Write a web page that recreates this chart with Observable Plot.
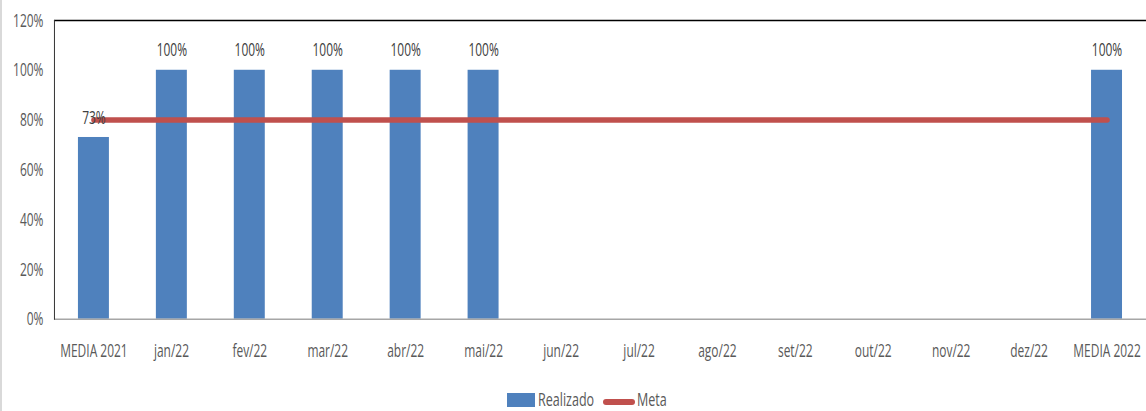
<!DOCTYPE html>
<html>
<head>
<meta charset="utf-8">
<script src="https://cdn.jsdelivr.net/npm/d3@7"></script>
<script src="https://cdn.jsdelivr.net/npm/@observablehq/plot@0.6"></script>
<style>
  html, body { margin: 0; padding: 0; background: #fff; overflow: hidden; width: 1146px; height: 411px; }
  #wrap { position: relative; width: 1146px; height: 411px; box-sizing: border-box; border-left: 2px solid #d9d9d9; }
  #chart { position: absolute; left: 0; top: 0; }
  .lg { position: absolute; font-family: "Open Sans", sans-serif; font-size: 19px; color: #595959; line-height: 1; transform-origin: 0 50%; transform: scaleX(0.66); white-space: nowrap; }
  .sw-bar { position: absolute; left: 505px; top: 393px; width: 28px; height: 14px; background: #4F81BD; }
  .sw-line { position: absolute; left: 601px; top: 399px; width: 32px; height: 6px; background: #C0504D; border-radius: 3px; }
</style>
</head>
<body>
<div id="wrap">
  <div id="chart"></div>
  <span class="sw-bar"></span><span class="lg" style="left:536px; top:390px;">Realizado</span>
  <span class="sw-line"></span><span class="lg" style="left:635px; top:390px;">Meta</span>
</div>
<script>
const categories = ["MEDIA 2021","jan/22","fev/22","mar/22","abr/22","mai/22","jun/22","jul/22","ago/22","set/22","out/22","nov/22","dez/22","MEDIA 2022"];
const realizado = [0.73, 1, 1, 1, 1, 1, null, null, null, null, null, null, null, 1];
const meta = [0.8, 0.8, 0.8, 0.8, 0.8, 0.8, 0.8, 0.8, 0.8, 0.8, 0.8, 0.8, 0.8, 0.8];
const yTicks = [0, 0.2, 0.4, 0.6, 0.8, 1.0, 1.2];

const rows = categories.map((c, i) => ({cat: c, real: realizado[i], meta: meta[i]}));
const bars = rows.filter(d => d.real != null);
const fmt = v => Math.round(v * 100) + "%";

const chart = Plot.plot({
  width: 1145,
  height: 385,
  marginLeft: 52,
  marginRight: 0,
  marginTop: 20,
  marginBottom: 66,
  style: {fontFamily: "'Open Sans', sans-serif", fontSize: "19px", color: "#595959", background: "transparent", overflow: "visible"},
  x: {domain: categories, paddingInner: 0.6, paddingOuter: 0.3, label: null, tickSize: 0, tickPadding: 24},
  y: {domain: [0, 1.2], ticks: yTicks, tickFormat: fmt, label: null, tickSize: 0, tickPadding: 11},
  marks: [
    Plot.barY(bars, {x: "cat", y: "real", fill: "#4F81BD"}),
    Plot.ruleY([1.2], {stroke: "#000", strokeWidth: 1.5}),
    Plot.ruleY([0], {stroke: "#a6a6a6", strokeWidth: 1.5}),
    Plot.frame({anchor: "left", stroke: "#333"}),
    Plot.line(rows, {x: "cat", y: "meta", stroke: "#C0504D", strokeWidth: 5.5, strokeLinecap: "round"}),
    Plot.text(bars, {x: "cat", y: "real", text: d => fmt(d.real), dy: -20, fill: "#404040", fontSize: 19})
  ]
});
document.getElementById("chart").appendChild(chart);

// Narrow the glyphs horizontally (the reference uses a condensed face)
const sx = 0.63;
d3.select(chart).selectAll("text").each(function () {
  const b = this.getBBox();
  const anchor = getComputedStyle(this).textAnchor || this.getAttribute("text-anchor");
  let ax = b.x + b.width / 2;
  if (anchor === "end") ax = b.x + b.width;
  else if (anchor === "start") ax = b.x;
  const prev = this.getAttribute("transform") || "";
  this.setAttribute("transform", `${prev} translate(${ax},0) scale(${sx},1) translate(${-ax},0)`);
});
</script>
</body>
</html>
